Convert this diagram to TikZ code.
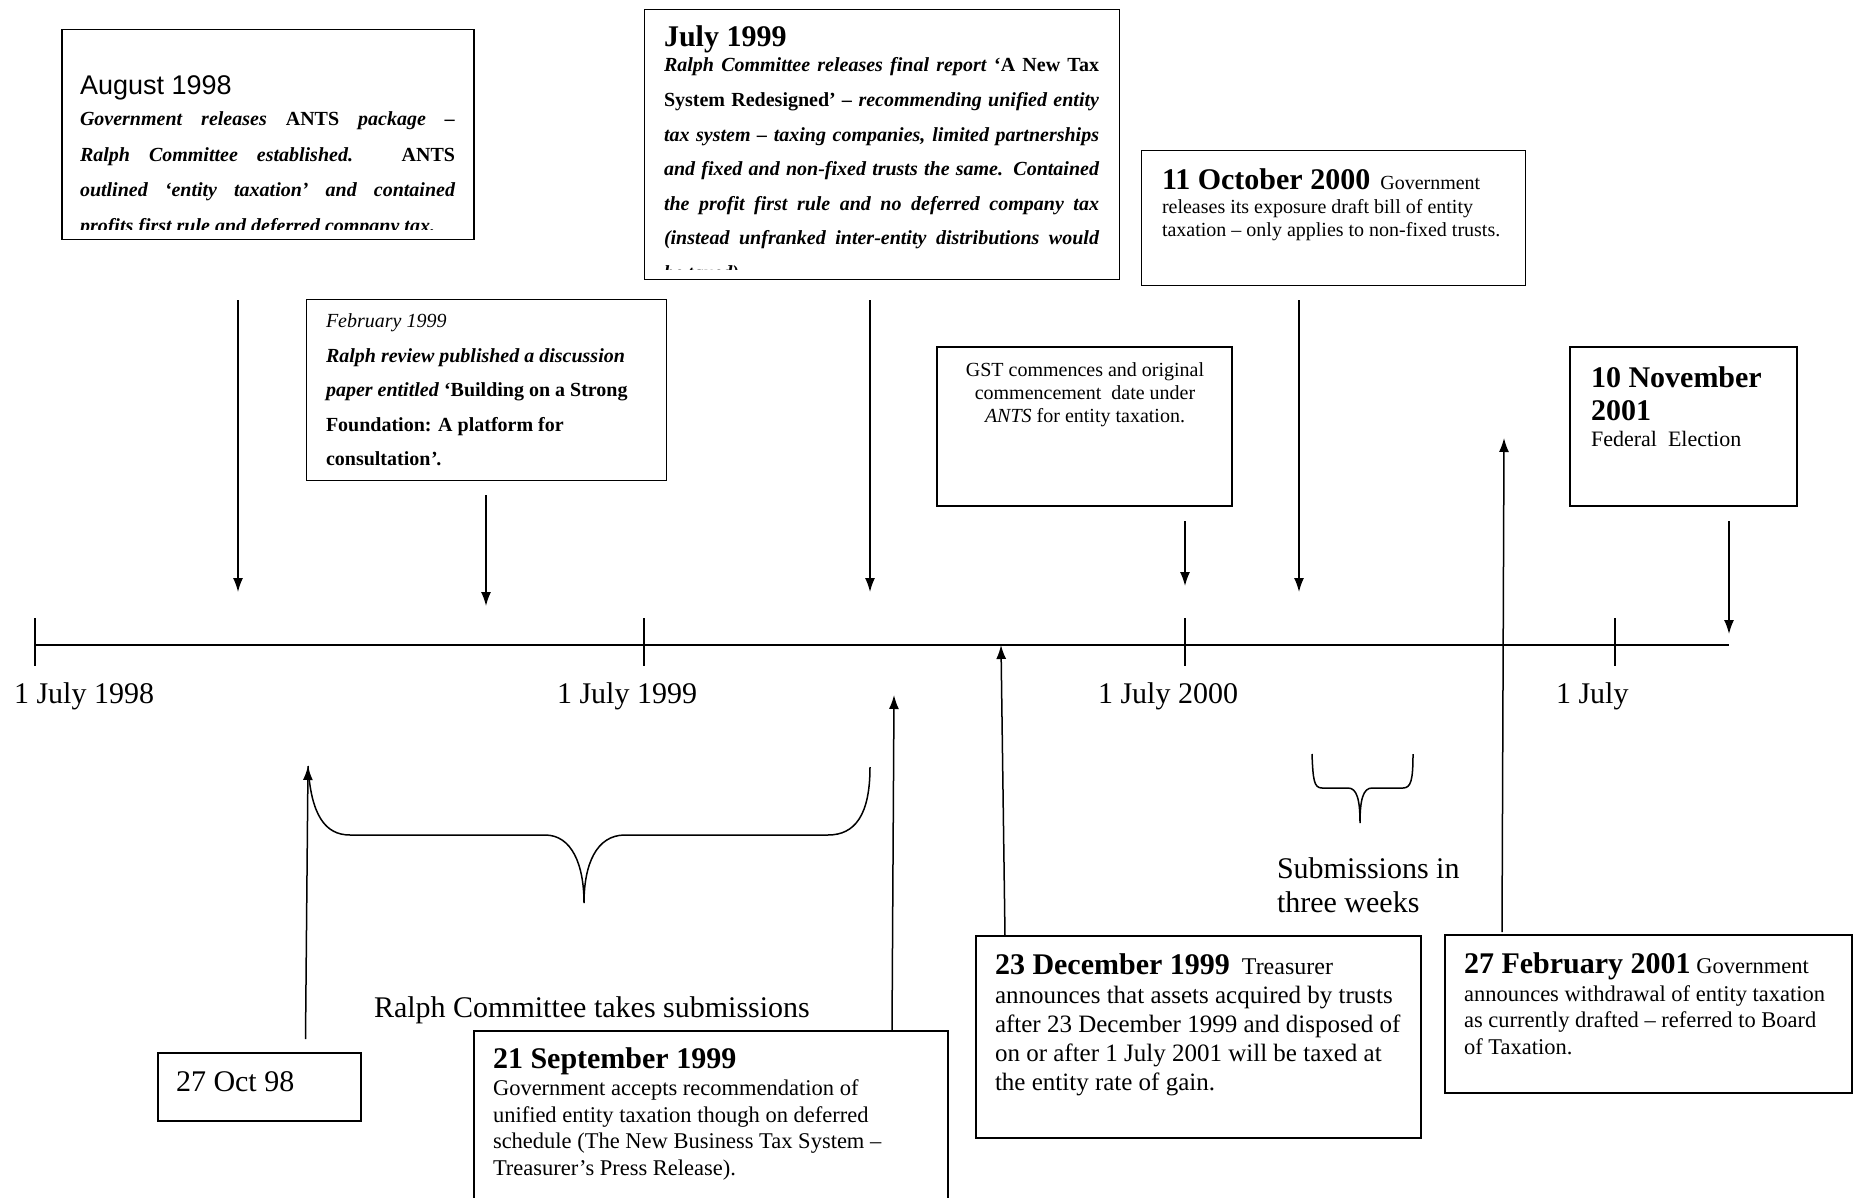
\documentclass[tikz,border=0pt]{standalone}
\usepackage{fontspec}
\setmainfont{Liberation Serif}
\setsansfont{Liberation Sans}
\usetikzlibrary{arrows.meta}
\newcommand{\fs}[2]{\fontsize{#1}{#2}\selectfont}
\newcommand{\JL}[2]{\hbox to #1{#2}}
\begin{document}
\begin{tikzpicture}[x=1pt,y=-1pt,
  box/.style={draw, line width=1.6pt, inner sep=0pt, outer sep=0pt, anchor=north west},
  txt/.style={inner sep=0pt, outer sep=0pt, anchor=base west},
  ctxt/.style={inner sep=0pt, outer sep=0pt, anchor=base},
  arr/.style={-{Latex[length=14pt,width=10pt]}, line width=1.5pt},
  tickline/.style={line width=1.2pt},
  bracep/.style={line width=1.5pt},
]
\useasboundingbox (0,0) rectangle (1857,1198);

% ---------- boxes ----------
\node[box, minimum width=412pt, minimum height=210pt] (augbox) at (62,29.5) {};
\node[box, minimum width=475pt, minimum height=270pt] (julbox) at (644.5,9.5) {};
\node[box, minimum width=360pt, minimum height=181pt] (febbox) at (306.5,299.5) {};
\node[box, minimum width=295pt, minimum height=159pt] (gstbox) at (937,347) {};
\node[box, minimum width=384pt, minimum height=135pt] (octbox) at (1141.5,150.5) {};
\node[box, minimum width=227pt, minimum height=159pt] (novbox) at (1570,347) {};
\node[box, minimum width=203pt, minimum height=68pt] (oct98box) at (158,1053) {};
\begin{scope}
\clip (0,0) rectangle (1857,1198);
\node[box, minimum width=474pt, minimum height=220pt] (sepbox) at (474,1031) {};
\end{scope}
\node[box, minimum width=445pt, minimum height=202pt] (decbox) at (976,936) {};
\node[box, minimum width=407pt, minimum height=158pt] (febbox2) at (1445,935) {};

% ---------- box texts ----------
\node[txt] (augdate) at (80,95) {\sffamily\fs{27}{30}August 1998};
\begin{scope}
\clip (63,30) rectangle (473,230);
\node[txt] (augtxt) at (80,126) {\vtop{\fs{20}{35.5}\lineskiplimit=-100pt\bfseries\itshape
  \JL{375pt}{Government releases \textup{ANTS} package –}
  \JL{375pt}{Ralph Committee established. \textup{ANTS}}
  \JL{375pt}{outlined ‘entity taxation’ and contained}
  \hbox{profits first rule and deferred company tax.}}};
\end{scope}

\node[txt] (juldate) at (664,47) {\fs{30}{34}\bfseries July 1999};
\begin{scope}
\clip (645,10) rectangle (1119,270);
\node[txt] (jultxt) at (664,72) {\vtop{\fs{20}{34.6}\lineskiplimit=-100pt\bfseries\itshape
  \JL{435pt}{Ralph Committee releases final report \textup{‘A New Tax}}
  \JL{435pt}{\textup{System Redesigned’} – recommending unified entity}
  \JL{435pt}{tax system – taxing companies, limited partnerships}
  \JL{435pt}{and fixed and non-fixed trusts the same. Contained}
  \JL{435pt}{the profit first rule and no deferred company tax}
  \JL{435pt}{(instead unfranked inter-entity distributions would}
  \hbox{be taxed).}}};
\end{scope}

\node[txt] (febdate) at (326,327) {\fs{20}{22}\itshape February 1999};
\node[txt] (febtxt) at (326,362) {\vtop{\fs{20}{34.5}\lineskiplimit=-100pt\bfseries
  \hbox{\itshape Ralph review published a discussion}
  \hbox{\textit{paper entitled} ‘Building on a Strong}
  \hbox{Foundation: A platform for}
  \hbox{consultation\textit{’.}}}};

\node[txt] (octtxt) at (1162,190) {\vtop{\fs{20}{23.5}\lineskiplimit=-100pt
  \hbox{\fs{30}{23.5}\bfseries 11 October 2000\fs{20}{23.5}\mdseries\ \ Government}
  \hbox{releases its exposure draft bill of entity}
  \hbox{taxation – only applies to non-fixed trusts.}}};

\node[ctxt] (gsttxt) at (1085,376) {\vtop{\fs{20}{23}\lineskiplimit=-100pt
  \JL{280pt}{\hfil GST commences and original\hfil}
  \JL{280pt}{\hfil commencement\ \ date under\hfil}
  \JL{280pt}{\hfil\textit{ANTS} for entity taxation.\hfil}}};

\node[txt] (novtxt) at (1591,387) {\vtop{\fs{30}{33}\lineskiplimit=-100pt\bfseries
  \hbox{10 November}\hbox{2001}\baselineskip=26pt
  \hbox{\fs{22}{26}\mdseries Federal\ \ Election}}};

\node[txt] (oct98txt) at (176,1091) {\fs{30}{34}27 Oct 98};

\node[txt] (septxt) at (493,1068) {\vtop{\fs{22.5}{26.5}\lineskiplimit=-100pt
  \hbox{\fs{30}{25}\bfseries 21 September 1999}\baselineskip=27.5pt
  \hbox{Government accepts recommendation of}\baselineskip=26.5pt
  \hbox{unified entity taxation though on deferred}
  \hbox{schedule (The New Business Tax System –}
  \hbox{Treasurer’s Press Release).}}};

\node[txt] (dectxt) at (995,974) {\vtop{\fs{25}{29}\lineskiplimit=-100pt
  \hbox{\fs{30}{29}\bfseries 23 December 1999\fs{24}{29}\mdseries\ \ Treasurer}
  \hbox{announces that assets acquired by trusts}
  \hbox{after 23 December 1999 and disposed of}
  \hbox{on or after 1 July 2001 will be taxed at}
  \hbox{the entity rate of gain.}}};

\node[txt] (feb01txt) at (1464,973) {\vtop{\fs{22.5}{28}\lineskiplimit=-100pt
  \hbox{\fs{30}{28}\bfseries 27 February 2001\fs{22.5}{28}\mdseries\ Government}
  \hbox{announces withdrawal of entity taxation}\baselineskip=26.8pt
  \hbox{as currently drafted – referred to Board}
  \hbox{of Taxation.}}};

% ---------- free texts ----------
\node[txt] (lab98) at (14,703) {\fs{30}{33}1 July 1998};
\node[txt] (lab99) at (557,703) {\fs{30}{33}1 July 1999};
\node[txt] (lab00) at (1098,703) {\fs{30}{33}1 July 2000};
\node[txt] (lab01) at (1556,703) {\fs{30}{33}1 July};
\node[txt] (ralphsub) at (374,1017) {\fs{30}{33}Ralph Committee takes submissions};
\node[txt] (subweeks) at (1277,878) {\vtop{\fs{30}{34.5}\lineskiplimit=-100pt\hbox{Submissions in}\hbox{three weeks}}};

% ---------- timeline ----------
\coordinate (tlstart) at (35,645);
\coordinate (tlend) at (1729,645);
\draw[line width=2.8pt] (tlstart) -- (tlend);
\foreach \tx [count=\i] in {35,644,1185,1615}{
  \coordinate (tt\i) at (\tx,618);
  \coordinate (tb\i) at (\tx,666);
  \draw[tickline] (tt\i) -- (tb\i);
}

% ---------- arrows ----------
\coordinate (d1s) at (238,300);  \coordinate (d1e) at (238,592);
\coordinate (d2s) at (486,495);  \coordinate (d2e) at (486,606);
\coordinate (d3s) at (870,300);  \coordinate (d3e) at (870,592);
\coordinate (d4s) at (1185,521); \coordinate (d4e) at (1185,586);
\coordinate (d5s) at (1299,300); \coordinate (d5e) at (1299,592);
\coordinate (d6s) at (1729,521); \coordinate (d6e) at (1729,634);
\foreach \k in {1,...,6}{ \draw[arr] (d\k s) -- (d\k e); }

\coordinate (u1s) at (305.5,1039); \coordinate (u1e) at (308,766);
\coordinate (u2s) at (892,1030);   \coordinate (u2e) at (894,695);
\coordinate (u3s) at (1005,936);   \coordinate (u3e) at (1001,645);
\coordinate (u4s) at (1502,932);   \coordinate (u4e) at (1504,438);
\foreach \k in {1,...,4}{ \draw[arr] (u\k s) -- (u\k e); }

% ---------- braces ----------
\coordinate (b1l) at (308,766);
\coordinate (b1t) at (584,903);
\coordinate (b1r) at (870,767);
\draw[bracep] (b1l) .. controls (311,815) and (325,835) .. (350,835) -- (545,835)
  .. controls (572,835) and (584,865) .. (b1t)
  .. controls (584,865) and (596,835) .. (625,835) -- (828,835)
  .. controls (855,835) and (870,815) .. (b1r);

\coordinate (b2l) at (1312,754);
\coordinate (b2t) at (1360,823);
\coordinate (b2r) at (1413,754);
\draw[bracep] (b2l) .. controls (1313,780) and (1314,788) .. (1322,788) -- (1348,788)
  .. controls (1357,788) and (1360,800) .. (b2t)
  .. controls (1360,800) and (1363,788) .. (1372,788) -- (1403,788)
  .. controls (1411,788) and (1413,780) .. (b2r);
\end{tikzpicture}
\end{document}
